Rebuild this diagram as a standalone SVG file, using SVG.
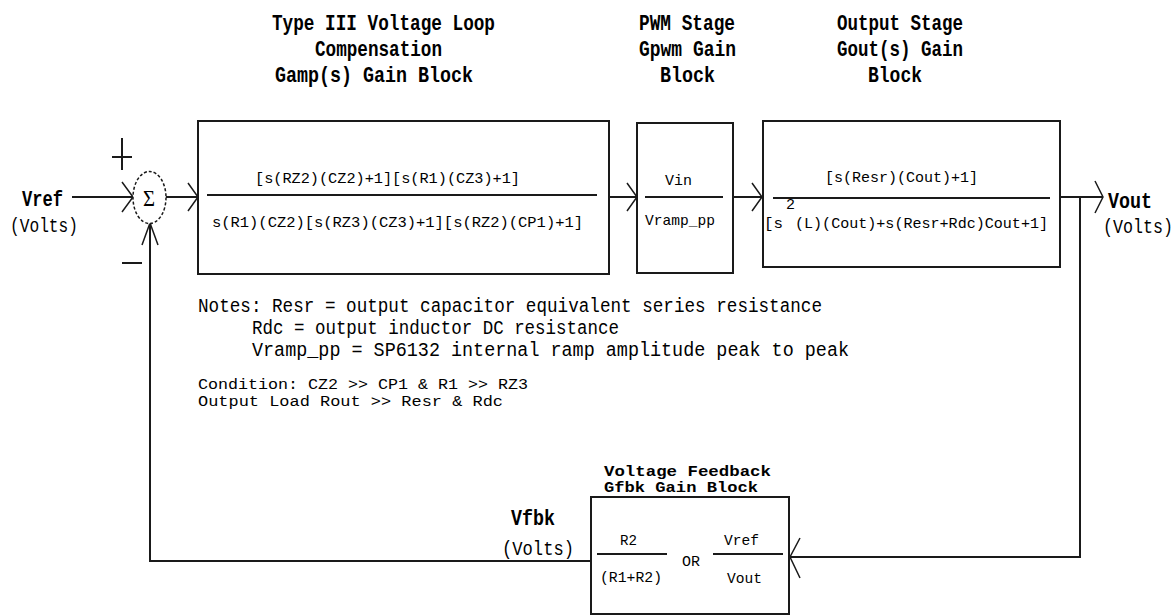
<svg xmlns="http://www.w3.org/2000/svg" width="1176" height="616" viewBox="0 0 1176 616">
<defs>
<style>
.bg{fill:#ffffff}
.box{fill:#ffffff;stroke:#1a1a1a;stroke-width:2}
.ln{fill:none;stroke:#1a1a1a;stroke-width:2}
.arr{fill:none;stroke:#1a1a1a;stroke-width:1.5}
.title{font-family:"Liberation Mono",monospace;font-weight:bold;font-size:18px;fill:#000}
.title2{font-family:"Liberation Mono",monospace;font-weight:bold;font-size:15px;fill:#000}
.lbl{font-family:"Liberation Mono",monospace;font-weight:bold;font-size:18px;fill:#000}
.unit{font-family:"Liberation Mono",monospace;font-size:17px;fill:#000}
.eq{font-family:"Liberation Mono",monospace;font-size:15px;fill:#000}
.note{font-family:"Liberation Mono",monospace;font-size:17px;fill:#000}
.note2{font-family:"Liberation Mono",monospace;font-size:15.5px;fill:#000}
</style>
</defs>
<rect class="bg" x="0" y="0" width="1176" height="616"/>

<g id="connectors">
<path class="ln" d="M72 197 H133"/>
<polyline class="arr" points="122,182 133,197 122,212"/>
<path class="ln" d="M166 197 H198"/>
<polyline class="arr" points="188,183 198,197 188,211"/>
<path class="ln" d="M609 197 H637"/>
<polyline class="arr" points="627,183 637,197 627,211"/>
<path class="ln" d="M733 197 H762"/>
<polyline class="arr" points="752,183 762,197 752,211"/>
<path class="ln" d="M1060 197 H1103"/>
<polyline class="arr" points="1095,181 1103,197 1095,213"/>
<path class="ln" d="M1080 197 V557 H789"/>
<polyline class="arr" points="800,538 790,557 800,578"/>
<path class="ln" d="M591 561 H150 V223"/>
<polyline class="arr" points="142,245 150,223 158,245"/>
</g>

<g id="vref">
<text class="lbl" transform="translate(22,206) scale(1,1.2)" textLength="41" lengthAdjust="spacingAndGlyphs">Vref</text>
<text class="unit" transform="translate(10,232) scale(1,1.2)" textLength="68" lengthAdjust="spacingAndGlyphs">(Volts)</text>
</g>

<g id="sum">
<ellipse cx="149.5" cy="197.5" rx="16.5" ry="26" fill="#fff" stroke="#1a1a1a" stroke-width="1.5" stroke-dasharray="3 2"/>
<text x="149" y="206" font-family="Liberation Serif, serif" font-size="24" text-anchor="middle" textLength="12" lengthAdjust="spacingAndGlyphs">Σ</text>
<path class="ln" d="M112 157 H132 M122 138 V170"/>
<path class="ln" d="M122 263 H142"/>
</g>

<g id="gamp">
<text class="title" transform="translate(272,30) scale(1,1.25)" textLength="223" lengthAdjust="spacingAndGlyphs">Type III Voltage Loop</text>
<text class="title" transform="translate(315,56) scale(1,1.25)" textLength="127" lengthAdjust="spacingAndGlyphs">Compensation</text>
<text class="title" transform="translate(275,82) scale(1,1.25)" textLength="198" lengthAdjust="spacingAndGlyphs">Gamp(s) Gain Block</text>
<rect class="box" x="198" y="121" width="411" height="153"/>
<path class="ln" d="M207 195 H597"/>
<text class="eq" x="255" y="183" textLength="265" lengthAdjust="spacingAndGlyphs">[s(RZ2)(CZ2)+1][s(R1)(CZ3)+1]</text>
<text class="eq" x="212" y="227" textLength="371" lengthAdjust="spacingAndGlyphs">s(R1)(CZ2)[s(RZ3)(CZ3)+1][s(RZ2)(CP1)+1]</text>
</g>

<g id="pwm">
<text class="title" transform="translate(639,30) scale(1,1.25)" textLength="96" lengthAdjust="spacingAndGlyphs">PWM Stage</text>
<text class="title" transform="translate(639,56) scale(1,1.25)" textLength="97" lengthAdjust="spacingAndGlyphs">Gpwm Gain</text>
<text class="title" transform="translate(660,82) scale(1,1.25)" textLength="55" lengthAdjust="spacingAndGlyphs">Block</text>
<rect class="box" x="637" y="123" width="96" height="150"/>
<path class="ln" d="M645 197 H723"/>
<text class="eq" x="665" y="185" textLength="27" lengthAdjust="spacingAndGlyphs">Vin</text>
<text class="eq" x="645" y="225" textLength="70" lengthAdjust="spacingAndGlyphs">Vramp_pp</text>
</g>

<g id="gout">
<text class="title" transform="translate(837,30) scale(1,1.25)" textLength="126" lengthAdjust="spacingAndGlyphs">Output Stage</text>
<text class="title" transform="translate(837,56) scale(1,1.25)" textLength="126" lengthAdjust="spacingAndGlyphs">Gout(s) Gain</text>
<text class="title" transform="translate(868,82) scale(1,1.25)" textLength="54" lengthAdjust="spacingAndGlyphs">Block</text>
<rect class="box" x="763" y="121" width="297" height="146"/>
<path class="ln" d="M773 198 H1050"/>
<text class="eq" x="825" y="182" textLength="153" lengthAdjust="spacingAndGlyphs">[s(Resr)(Cout)+1]</text>
<text class="eq" x="764" y="228" textLength="19" lengthAdjust="spacingAndGlyphs">[s</text>
<text class="eq" x="786" y="209">2</text>
<text class="eq" x="795" y="228" textLength="253" lengthAdjust="spacingAndGlyphs">(L)(Cout)+s(Resr+Rdc)Cout+1]</text>
</g>

<g id="vout">
<text class="lbl" transform="translate(1108,208) scale(1,1.2)" textLength="44" lengthAdjust="spacingAndGlyphs">Vout</text>
<text class="unit" transform="translate(1103,233) scale(1,1.2)" textLength="70" lengthAdjust="spacingAndGlyphs">(Volts)</text>
</g>

<g id="notes">
<text class="note" transform="translate(198,312) scale(1,1.15)" textLength="624" lengthAdjust="spacingAndGlyphs">Notes: Resr = output capacitor equivalent series resistance</text>
<text class="note" transform="translate(252,334) scale(1,1.15)" textLength="367" lengthAdjust="spacingAndGlyphs">Rdc = output inductor DC resistance</text>
<text class="note" transform="translate(252,356) scale(1,1.15)" textLength="597" lengthAdjust="spacingAndGlyphs">Vramp_pp = SP6132 internal ramp amplitude peak to peak</text>
<text class="note2" x="198" y="389" textLength="330" lengthAdjust="spacingAndGlyphs">Condition: CZ2 &gt;&gt; CP1 &amp; R1 &gt;&gt; RZ3</text>
<text class="note2" x="198" y="406" textLength="305" lengthAdjust="spacingAndGlyphs">Output Load Rout &gt;&gt; Resr &amp; Rdc</text>
</g>

<g id="gfbk">
<text class="title2" x="604" y="476" textLength="167" lengthAdjust="spacingAndGlyphs">Voltage Feedback</text>
<text class="title2" x="604" y="492" textLength="154" lengthAdjust="spacingAndGlyphs">Gfbk Gain Block</text>
<rect class="box" x="591" y="497" width="198" height="117"/>
<path class="ln" d="M597 554 H667 M713 554 H783"/>
<text class="eq" x="620" y="545" textLength="17" lengthAdjust="spacingAndGlyphs">R2</text>
<text class="eq" x="600" y="582" textLength="62" lengthAdjust="spacingAndGlyphs">(R1+R2)</text>
<text class="eq" x="682" y="566" textLength="18" lengthAdjust="spacingAndGlyphs">OR</text>
<text class="eq" x="724" y="545" textLength="35" lengthAdjust="spacingAndGlyphs">Vref</text>
<text class="eq" x="727" y="583" textLength="35" lengthAdjust="spacingAndGlyphs">Vout</text>
</g>

<g id="vfbk">
<text class="lbl" transform="translate(511,525) scale(1,1.2)" textLength="44" lengthAdjust="spacingAndGlyphs">Vfbk</text>
<text class="unit" transform="translate(502,555) scale(1,1.2)" textLength="72" lengthAdjust="spacingAndGlyphs">(Volts)</text>
</g>
</svg>
